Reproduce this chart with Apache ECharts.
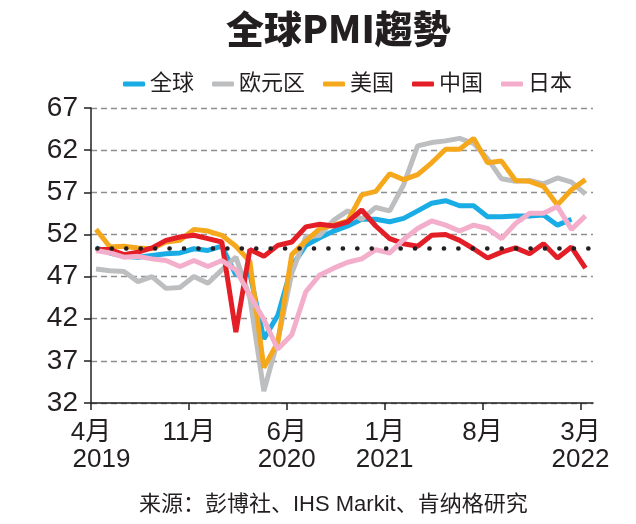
<!DOCTYPE HTML>
<html>
<head>
<meta http-equiv="Content-type" content="text/html; charset=UTF-8" />
<script type="text/javascript" src="https://cdn.jsdelivr.net/npm/echarts@6/dist/echarts.min.js"></script>
<style>
  html, body { margin: 0; padding: 0; background: #fff; }
  #main { width: 636px; height: 524px; }
</style>
</head>
<body>
<div id="main"></div>
<script>
// 月份: 2019年4月 ~ 2022年3月, 共36个月
var months = [
  '2019-04', '2019-05', '2019-06', '2019-07', '2019-08', '2019-09', '2019-10', '2019-11', '2019-12',
  '2020-01', '2020-02', '2020-03', '2020-04', '2020-05', '2020-06', '2020-07', '2020-08', '2020-09',
  '2020-10', '2020-11', '2020-12', '2021-01', '2021-02', '2021-03', '2021-04', '2021-05', '2021-06',
  '2021-07', '2021-08', '2021-09', '2021-10', '2021-11', '2021-12', '2022-01', '2022-02', '2022-03'
];
var globalPMI = [50.4, 49.8, 49.4, 49.3, 49.5, 49.7, 49.8, 50.3, 50.1, 50.6, 47.2, 47.4, 39.6, 42.4, 48.2, 50.7, 51.6, 52.4, 53.0, 53.8, 53.8, 53.5, 53.9, 54.8, 55.7, 56.0, 55.4, 55.4, 54.1, 54.1, 54.2, 54.2, 54.3, 53.1, 53.8, null];
var euroPMI   = [47.9, 47.7, 47.6, 46.4, 47.0, 45.6, 45.7, 47.0, 46.2, 47.8, 49.3, 44.5, 33.4, 39.4, 47.4, 51.7, 51.9, 53.7, 54.8, 53.8, 55.2, 54.8, 57.9, 62.5, 62.9, 63.1, 63.4, 62.8, 61.0, 58.6, 58.3, 58.4, 58.0, 58.7, 58.2, 56.8];
var usPMI     = [52.6, 50.5, 50.6, 50.4, 50.3, 51.1, 51.3, 52.6, 52.4, 51.9, 50.6, 48.8, 36.2, 39.2, 49.6, 51.2, 52.7, 53.1, 53.6, 56.7, 57.1, 59.2, 58.5, 59.1, 60.5, 62.1, 62.1, 63.4, 60.5, 60.7, 58.4, 58.3, 57.7, 55.5, 57.3, 58.5];
var chinaPMI  = [50.2, 50.2, 49.6, 49.9, 50.4, 51.3, 51.7, 51.9, 51.5, 51.1, 40.4, 50.2, 49.4, 50.7, 51.1, 52.9, 53.2, 53.0, 53.5, 54.9, 53.0, 51.5, 50.9, 50.6, 51.9, 52.0, 51.3, 50.3, 49.2, 49.9, 50.4, 49.7, 50.9, 49.2, 50.5, 48.0];
var japanPMI  = [50.1, 49.8, 49.3, 49.4, 49.1, 48.9, 48.2, 48.9, 48.2, 48.9, 47.8, 44.8, 41.9, 38.4, 40.1, 45.2, 47.2, 48.0, 48.7, 49.1, 50.2, 49.8, 51.4, 52.7, 53.6, 53.1, 52.4, 53.1, 52.7, 51.5, 53.3, 54.5, 54.5, 55.3, 52.6, 54.2];

var yTicks = [32, 37, 42, 47, 52, 57, 62, 67];
var xTickIndex = [0, 7, 14, 21, 28, 35];
var xTickLabels = ['4月\n{p|2019}', '11月', '6月\n2020', '1月\n2021', '8月', '3月\n2022'];
var refLevel = 50.4;

var seriesNames = ['全球', '欧元区', '美国', '中国', '日本'];
var seriesData = [globalPMI, euroPMI, usPMI, chinaPMI, japanPMI];
var seriesColors = ['#1AACE5', '#BDBEC0', '#F6A81C', '#E31E26', '#F3AECB'];

var FONT = "'Liberation Sans', 'Noto Sans CJK SC', sans-serif";
var INK = '#231F20';
var MID_MONTH = 0.36; // 每月数据点略偏离月初刻度

function toPoints(values) {
  return values.map(function (v, i) { return [i + MID_MONTH, v]; });
}

var chart = echarts.init(document.getElementById('main'));

var series = seriesNames.map(function (name, k) {
  return {
    name: name,
    type: 'line',
    data: toPoints(seriesData[k]),
    showSymbol: false,
    symbol: 'none',
    connectNulls: false,
    color: seriesColors[k],
    lineStyle: { width: 5, color: seriesColors[k] }
  };
});

// 50 荣枯线 (黑色圆点)
series[0].markLine = {
  silent: true,
  symbol: ['none', 'none'],
  label: { show: false },
  data: [{ yAxis: refLevel }],
  lineStyle: {
    color: INK,
    width: 4.6,
    type: [0.1, 14.34],
    cap: 'round',
    dashOffset: 8.1
  }
};

var option = {
  animation: false,
  backgroundColor: '#fff',
  title: [{
    text: '全球PMI趨勢',
    left: 221,
    top: 5,
    textStyle: { fontSize: 38, fontWeight: 900, color: INK, fontFamily: "'Noto Sans CJK SC', sans-serif" }
  }, {
    text: '来源：彭博社、IHS Markit、肯纳格研究',
    left: 134,
    top: 489,
    textStyle: { fontSize: 22, fontWeight: 'normal', color: INK, fontFamily: FONT }
  }],
  legend: {
    data: seriesNames,
    left: 118,
    top: 68,
    icon: 'roundRect',
    itemWidth: 22,
    itemHeight: 5,
    itemGap: 18,
    textStyle: { fontSize: 22, color: INK, fontFamily: FONT }
  },
  grid: { left: 91, right: 43, top: 108, bottom: 121 },
  xAxis: {
    type: 'value',
    min: 0,
    max: 35.9,
    axisLine: { lineStyle: { color: INK, width: 1.5 } },
    axisTick: { customValues: xTickIndex, length: 7, lineStyle: { color: INK, width: 1.5 } },
    axisLabel: {
      customValues: xTickIndex,
      formatter: function (v) {
        var k = xTickIndex.indexOf(v);
        return k < 0 ? '' : xTickLabels[k];
      },
      fontSize: 26,
      lineHeight: 27,
      color: INK,
      fontFamily: FONT,
      margin: 16,
      rich: {
        p: { fontSize: 26, lineHeight: 27, color: INK, fontFamily: FONT, padding: [0, 0, 0, 21] }
      }
    },
    splitLine: { show: false }
  },
  yAxis: {
    type: 'value',
    min: 32,
    max: 67,
    interval: 5,
    axisLine: { show: true, lineStyle: { color: INK, width: 1.5 } },
    axisTick: { show: true, customValues: yTicks, length: 7, lineStyle: { color: INK, width: 1.5 } },
    axisLabel: { customValues: yTicks, fontSize: 28, color: INK, fontFamily: FONT, margin: 13 },
    splitLine: { show: true, lineStyle: { color: '#8E8E8E', width: 1.3, type: [6, 4] } }
  },
  series: series
};

chart.setOption(option);
</script>
</body>
</html>
